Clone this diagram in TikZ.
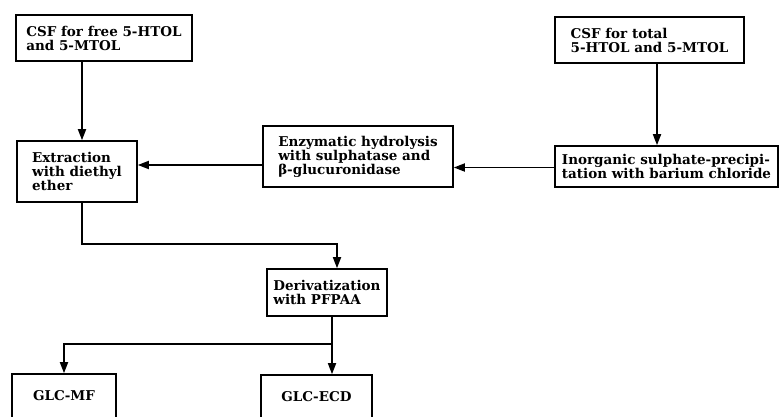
\documentclass[tikz,border=0pt]{standalone}
\usepackage{fontspec}
\setmainfont{DejaVu Serif}
\usetikzlibrary{arrows.meta, calc}
\tikzset{procbox/.style={draw=black, line width=1.6pt, fill=white, align=left,
    inner xsep=0pt, inner ysep=0pt, font=\bfseries\fontsize{13.5}{14}\selectfont},
    flow/.style={draw, line width=1.7pt}}

\begin{document}
\begin{tikzpicture}[
    x=1pt, y=1pt,
    >={Triangle[length=11pt,width=8pt]}
  ]
  \useasboundingbox (0,0) rectangle (779,416);
  \clip (0,0) rectangle (779,416);

  \node[procbox, minimum width=176pt, minimum height=46pt] (free) at (104,378)
    {CSF for free 5-HTOL\\and 5-MTOL};
  \node[procbox, minimum width=189pt, minimum height=46pt] (total) at (649.5,376)
    {CSF for total\\5-HTOL and 5-MTOL};
  \node[procbox, minimum width=120pt, minimum height=61pt] (extr) at (77,244.5)
    {Extraction\\with diethyl\\ether};
  \node[procbox, minimum width=190pt, minimum height=61pt] (enz) at (358,259.5)
    {Enzymatic hydrolysis\\with sulphatase and\\β-glucuronidase};
  \node[procbox, minimum width=223pt, minimum height=41pt] (inorg) at (666.5,249.5)
    {Inorganic sulphate-precipi-\\tation with barium chloride};
  \node[procbox, minimum width=120pt, minimum height=47pt] (deriv) at (327,123.5)
    {Derivatization\\with PFPAA};
  \node[procbox, minimum width=104pt, minimum height=46pt] (glcmf) at (64,19)
    {\raisebox{3pt}{GLC-MF}};
  \node[procbox, minimum width=111pt, minimum height=46pt] (glcecd) at (316.5,18)
    {\raisebox{3pt}{GLC-ECD}};

  % sample flow
  \draw[flow, ->] ([xshift=5pt]extr.north |- free.south) -- ([xshift=5pt]extr.north);
  \draw[flow, ->] ([xshift=7.5pt]total.south) -- ([xshift=7.5pt]total.south |- inorg.north);
  \draw[flow, ->] ([yshift=-1pt]inorg.west) -- ([yshift=-1pt]inorg.west -| enz.east);
  \draw[flow, ->] ([yshift=-8.5pt]enz.west) -- ([yshift=-8.5pt]enz.west -| extr.east);
  \draw[flow, ->] ([xshift=5pt]extr.south) -- ++(0,-41) -| ([xshift=10pt]deriv.north);

  % split to the two detectors
  \draw[flow, ->] ([xshift=5pt]deriv.south) -- ++(0,-27) -| (glcmf.north);
  \draw[flow, ->] ([xshift=5pt]deriv.south) -- ([xshift=15.5pt]glcecd.north);
\end{tikzpicture}
\end{document}
